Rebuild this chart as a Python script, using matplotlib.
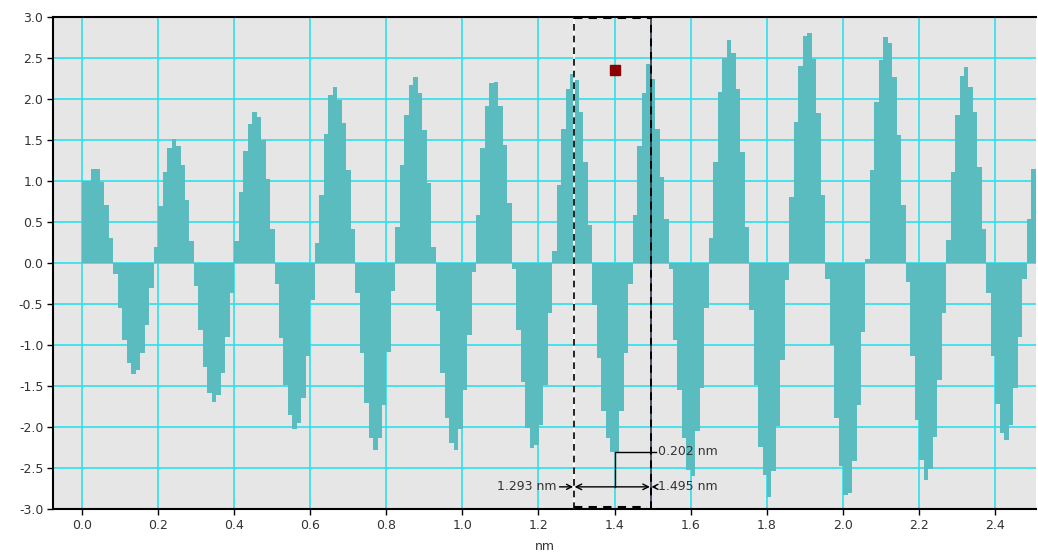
import matplotlib
matplotlib.use("Agg")
import matplotlib.pyplot as plt
import numpy as np

# profile heights, one value per sample, grouped by lobe
heights = [
    1.00, 1.00, 1.15, 1.15, 0.99, 0.71, 0.31,
    -0.13, -0.55, -0.94, -1.22, -1.35, -1.30, -1.10, -0.76, -0.30,
    0.19, 0.69, 1.11, 1.40, 1.51, 1.43, 1.19, 0.77, 0.27,
    -0.28, -0.82, -1.27, -1.59, -1.70, -1.61, -1.34, -0.90, -0.36,
    0.27, 0.87, 1.37, 1.70, 1.84, 1.78, 1.50, 1.03, 0.42,
    -0.26, -0.92, -1.49, -1.85, -2.03, -1.95, -1.65, -1.14, -0.45,
    0.25, 0.83, 1.57, 2.05, 2.15, 1.99, 1.71, 1.13, 0.41,
    -0.36, -1.10, -1.71, -2.14, -2.28, -2.14, -1.73, -1.08, -0.34,
    0.44, 1.19, 1.81, 2.17, 2.27, 2.07, 1.62, 0.97, 0.19,
    -0.59, -1.34, -1.89, -2.20, -2.28, -2.03, -1.55, -0.88, -0.11,
    0.58, 1.40, 1.92, 2.19, 2.21, 1.92, 1.44, 0.73,
    -0.07, -0.82, -1.45, -2.01, -2.25, -2.22, -1.97, -1.49, -0.61,
    0.15, 0.95, 1.64, 2.12, 2.31, 2.23, 1.84, 1.23, 0.46,
    -0.51, -1.16, -1.81, -2.14, -2.30, -2.30, -1.80, -1.10, -0.25,
    0.58, 1.43, 2.07, 2.43, 2.25, 1.64, 1.05, 0.54,
    -0.07, -0.94, -1.55, -2.14, -2.52, -2.60, -2.05, -1.53, -0.55,
    0.30, 1.23, 2.08, 2.50, 2.72, 2.56, 2.12, 1.35, 0.44,
    -0.57, -1.49, -2.24, -2.58, -2.85, -2.54, -1.99, -1.18, -0.21,
    0.81, 1.72, 2.40, 2.77, 2.81, 2.49, 1.83, 0.83,
    -0.20, -1.00, -1.89, -2.48, -2.83, -2.80, -2.42, -1.73, -0.84,
    0.05, 1.13, 1.96, 2.48, 2.76, 2.68, 2.27, 1.56, 0.71,
    -0.23, -1.14, -1.91, -2.40, -2.65, -2.51, -2.12, -1.43, -0.61,
    0.28, 1.11, 1.80, 2.28, 2.39, 2.15, 1.84, 1.17, 0.42,
    -0.37, -1.14, -1.72, -2.07, -2.16, -1.97, -1.52, -0.90, -0.19,
    0.54, 1.15,
]
x_start = 0.0
step_nm = 0.01177

x_ticks = [0.0, 0.2, 0.4, 0.6, 0.8, 1.0, 1.2, 1.4, 1.6, 1.8, 2.0, 2.2, 2.4]
y_ticks = [-3.0, -2.5, -2.0, -1.5, -1.0, -0.5, 0.0, 0.5, 1.0, 1.5, 2.0, 2.5, 3.0]

cursor_left = 1.293
cursor_right = 1.495
cursor_mid = 1.40
marker_xy = (1.40, 2.35)
dist_label = "0.202 nm"

BAR = "#5BBCBF"
GRID = "#2EE0EC"

plt.rcParams["font.family"] = ["DejaVu Sans"]
plt.rcParams["axes.unicode_minus"] = False

fig = plt.figure(figsize=(10.38, 5.55), dpi=100)
ax = fig.add_axes([53 / 1038, 1 - 509 / 555, 983 / 1038, 492 / 555])
ax.set_facecolor("#E6E6E6")

x = x_start + np.arange(len(heights)) * step_nm
ax.bar(x, heights, width=step_nm, align="edge", color=BAR, linewidth=0, zorder=2)

ax.set_xlim(-0.0763, 2.508)
ax.set_ylim(-3.0, 3.0)
ax.set_xticks(x_ticks)
ax.set_yticks(y_ticks)
ax.set_xticklabels([f"{v:.1f}" for v in x_ticks])
ax.set_yticklabels([f"{v:.1f}" for v in y_ticks])
ax.set_axisbelow(True)
ax.grid(True, color=GRID, lw=1.2)
ax.tick_params(labelsize=9, length=4, width=1, pad=3, colors="black", labelcolor="#333333")
ax.set_xlabel("nm", fontsize=9, color="#333333", labelpad=6)
for side in ("left", "bottom", "top"):
    ax.spines[side].set_linewidth(1.5)
    ax.spines[side].set_color("black")
ax.spines["right"].set_visible(False)

# cursor box
ax.axvline(cursor_left, color="white", lw=1.2, zorder=4)
ax.axvline(cursor_left, color="black", lw=1.2, ls=(0, (4, 3)), zorder=5)
ax.axvline(cursor_right, color="#2B3A55", lw=1.2, zorder=4)
ax.axvline(cursor_right, color="black", lw=1.4, ls=(0, (4, 3)), zorder=5)
ax.plot([cursor_left, cursor_right], [2.985, 2.985], color="black", lw=1.5,
        ls=(0, (4, 3)), zorder=5, clip_on=False)
ax.plot([cursor_left, cursor_right - 0.01], [-2.97, -2.97], color="black", lw=1.5,
        ls=(0, (4, 3)), zorder=5)

ax.plot(*marker_xy, marker="s", ms=7, color="#8B0000", zorder=6)

# distance bracket
y_dist = -2.30
y_arrow = -2.73
ax.plot([cursor_mid, cursor_mid, cursor_right + 0.015], [y_arrow, y_dist, y_dist],
        color="black", lw=1, zorder=6)
ax.text(cursor_right + 0.02, y_dist, dist_label, fontsize=9, color="#333333",
        va="center", ha="left", zorder=7)
ax.annotate("", xy=(cursor_left + 0.002, y_arrow), xytext=(cursor_right - 0.002, y_arrow),
            arrowprops=dict(arrowstyle="<->", color="black", lw=1, shrinkA=0, shrinkB=0),
            zorder=6)
ax.annotate(f"{cursor_left:.3f} nm", xy=(cursor_left - 0.002, y_arrow),
            xytext=(cursor_left - 0.045, y_arrow), fontsize=9, color="#333333",
            va="center", ha="right",
            arrowprops=dict(arrowstyle="->", color="black", lw=1, shrinkA=0, shrinkB=0),
            zorder=7)
ax.annotate(f"{cursor_right:.3f} nm", xy=(cursor_right + 0.002, y_arrow),
            xytext=(cursor_right + 0.02, y_arrow), fontsize=9, color="#333333",
            va="center", ha="left",
            arrowprops=dict(arrowstyle="->", color="black", lw=1, shrinkA=0, shrinkB=0),
            zorder=7)

fig.savefig("out.png", dpi=100, facecolor="white")
